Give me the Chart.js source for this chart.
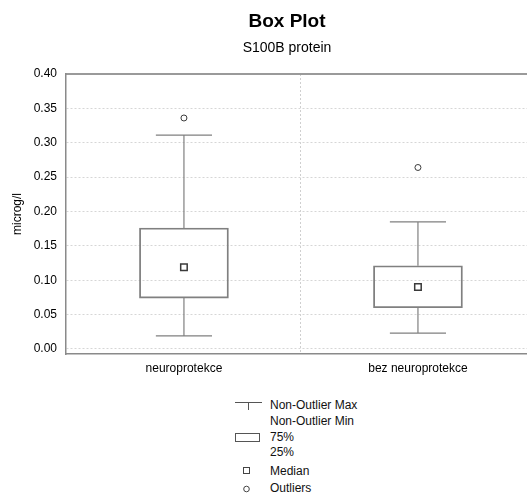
<!DOCTYPE html>
<html>
<head>
<meta charset="utf-8">
<script src="https://cdn.jsdelivr.net/npm/chart.js@4/dist/chart.umd.min.js"></script>
<style>
  html, body { margin:0; padding:0; background:#fff; width:527px; height:501px; overflow:hidden; font-family:"Liberation Sans", Arial, sans-serif; }
  #wrap { position:relative; width:527px; height:501px; }
  #c { position:absolute; left:0; top:0; }
  .t { position:absolute; white-space:nowrap; color:#000; }
  .title { font-weight:bold; font-size:19px; line-height:22px; left:187px; width:200px; text-align:center; }
  .sub { font-size:14px; line-height:16px; left:187px; width:200px; text-align:center; }
  .lg { font-size:12px; line-height:14px; left:270px; color:#111; }
  svg.ic { position:absolute; }
</style>
</head>
<body>
<div id="wrap">
  <canvas id="c" width="527" height="385"></canvas>
  <div class="t title" style="top:10px">Box Plot</div>
  <div class="t sub" style="top:39px">S100B protein</div>

  <svg class="ic" style="left:230px;top:396px" width="40" height="20">
    <line x1="5" y1="6.5" x2="32" y2="6.5" stroke="#555" stroke-width="1"/>
    <line x1="18.5" y1="6.5" x2="18.5" y2="14" stroke="#555" stroke-width="1"/>
  </svg>
  <div class="t lg" style="top:398px">Non-Outlier Max</div>
  <div class="t lg" style="top:414px">Non-Outlier Min</div>

  <svg class="ic" style="left:230px;top:428px" width="40" height="20">
    <rect x="5.5" y="5.5" width="24" height="8" fill="#fff" stroke="#555" stroke-width="1"/>
  </svg>
  <div class="t lg" style="top:430px">75%</div>
  <div class="t lg" style="top:445px">25%</div>

  <svg class="ic" style="left:236px;top:461px" width="20" height="20">
    <rect x="7.5" y="6.5" width="6" height="6" fill="#fff" stroke="#444" stroke-width="1"/>
  </svg>
  <div class="t lg" style="top:464px">Median</div>

  <svg class="ic" style="left:236px;top:479px" width="20" height="20">
    <circle cx="10.5" cy="10" r="2.8" fill="#fff" stroke="#444" stroke-width="1"/>
  </svg>
  <div class="t lg" style="top:481px">Outliers</div>
</div>
<script>
// ---- data ----
const categories = ["neuroprotekce", "bez neuroprotekce"];
const nonOutlierMin = [0.019, 0.023];
const q1Values      = [0.074, 0.060];
const medianValues  = [0.119, 0.090];
const q3Values      = [0.176, 0.121];
const nonOutlierMax = [0.311, 0.185];
const outlierValues = [[0.336], [0.264]];
const yTickValues = [0, 0.05, 0.10, 0.15, 0.20, 0.25, 0.30, 0.35, 0.40];

// ---- build datasets from the arrays ----
const CAP = 0.12; // half-width of whisker caps in category units
const boxData = categories.map((c, i) => ({ x: i, y: [q1Values[i], q3Values[i]] }));
const whiskerData = [];
categories.forEach((c, i) => {
  whiskerData.push({x: i - CAP, y: nonOutlierMax[i]}, {x: i + CAP, y: nonOutlierMax[i]}, {x: i, y: null});
  whiskerData.push({x: i, y: nonOutlierMax[i]}, {x: i, y: q3Values[i]}, {x: i, y: null});
  whiskerData.push({x: i, y: q1Values[i]}, {x: i, y: nonOutlierMin[i]}, {x: i, y: null});
  whiskerData.push({x: i - CAP, y: nonOutlierMin[i]}, {x: i + CAP, y: nonOutlierMin[i]}, {x: i + CAP, y: null});
});
const medianData = categories.map((c, i) => ({ x: i, y: medianValues[i] }));
const outlierData = [];
categories.forEach((c, i) => outlierValues[i].forEach(v => outlierData.push({ x: i, y: v })));

const XMIN = -0.504, XMAX = 1.466;
const font = { family: "'Liberation Sans', Arial, sans-serif", size: 12 };

new Chart(document.getElementById('c'), {
  data: {
    datasets: [
      { type: 'bar', data: boxData, backgroundColor: 'rgba(255,255,255,0)', borderColor: '#808080',
        borderWidth: 1.2, borderSkipped: false, barThickness: 89, xAxisID: 'x', yAxisID: 'y', order: 3 },
      { type: 'line', data: whiskerData, borderColor: '#808080', borderWidth: 1.2, pointRadius: 0,
        spanGaps: false, fill: false, tension: 0, xAxisID: 'x', yAxisID: 'y', order: 2 },
      { type: 'scatter', data: medianData, pointStyle: 'rect', pointRadius: 4.6, borderColor: '#3a3a3a',
        backgroundColor: '#fff', borderWidth: 1.5, xAxisID: 'x', yAxisID: 'y', order: 1 },
      { type: 'scatter', data: outlierData, pointStyle: 'circle', pointRadius: 3, borderColor: '#3a3a3a',
        backgroundColor: '#fff', borderWidth: 1, xAxisID: 'x', yAxisID: 'y', order: 0 }
    ]
  },
  options: {
    responsive: false,
    animation: false,
    events: [],
    layout: { autoPadding: false, padding: { top: 74, right: 0, left: 0, bottom: 0 } },
    plugins: { legend: { display: false }, tooltip: { enabled: false }, title: { display: false } },
    scales: {
      x: {
        type: 'linear', position: 'bottom', min: XMIN, max: XMAX, offset: false,
        afterBuildTicks: s => { s.ticks = [{value: 0}, {value: 0.5}, {value: 1}]; },
        afterFit: s => { s.height = 31; s.paddingLeft = 0; s.paddingRight = 0; },
        ticks: { autoSkip: false, maxRotation: 0, padding: 7, color: '#000', font,
                 callback: v => (v === 0 ? categories[0] : v === 1 ? categories[1] : '') },
        grid: { offset: false, drawTicks: false, color: c => (c.tick && c.tick.value === 0.5 ? '#cfcfcf' : 'rgba(0,0,0,0)'), lineWidth: 1 },
        border: { display: true, color: '#8a8a8a', width: 1.5, dash: [2, 2] }
      },
      xTop: {
        type: 'linear', position: 'top', min: XMIN, max: XMAX, offset: false,
        afterFit: s => { s.height = 0; s.paddingLeft = 0; s.paddingRight = 0; },
        ticks: { display: false },
        grid: { display: false, drawTicks: false },
        border: { display: true, color: '#9a9a9a', width: 2 }
      },
      y: {
        type: 'linear', position: 'left', min: -0.0073, max: 0.40,
        afterBuildTicks: s => { s.ticks = yTickValues.map(v => ({ value: v })); },
        afterFit: s => { s.width = 66; s.paddingTop = 0; s.paddingBottom = 0; },
        ticks: { padding: 9, color: '#000', font, callback: v => v.toFixed(2) },
        grid: { drawTicks: false, color: '#d6d6d6', lineWidth: 1 },
        border: { display: true, color: '#8a8a8a', width: 1.5, dash: [2, 2] },
        title: { display: true, text: 'microg/l', color: '#000', font, padding: { top: 10, bottom: 0 } }
      }
    }
  }
});
</script>
</body>
</html>
